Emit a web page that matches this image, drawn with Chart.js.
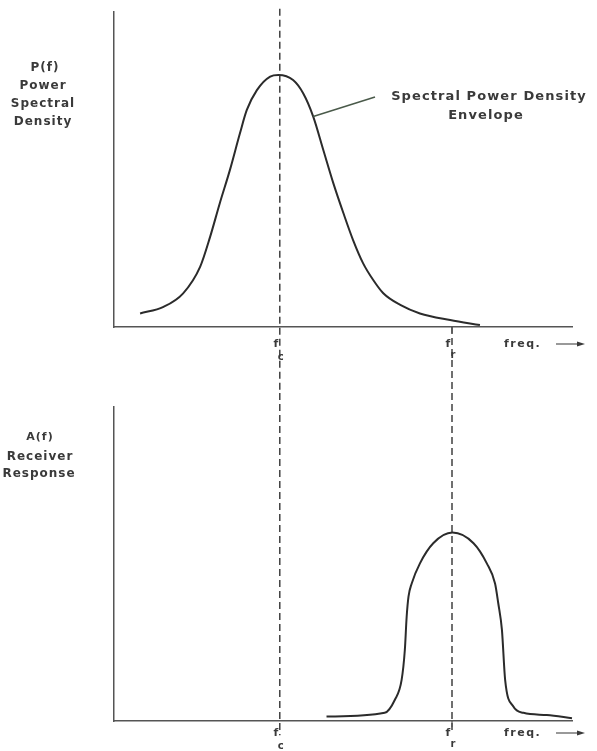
<!DOCTYPE html>
<html>
<head>
<meta charset="utf-8">
<script src="https://cdn.jsdelivr.net/npm/chart.js@4"></script>
<style>
  html, body { margin: 0; padding: 0; background: #ffffff; }
  #wrap { position: relative; width: 597px; height: 751px; }
  canvas { position: absolute; left: 0; }
  #topChart { top: 0; }
  #bottomChart { top: 390px; }
</style>
</head>
<body>
<div id="wrap">
  <canvas id="topChart" width="597" height="390"></canvas>
  <canvas id="bottomChart" width="597" height="361"></canvas>
</div>
<script>
// Frequências de referência (unidades arbitrárias, 0-100)
const fc = 36.2;
const fr = 73.8;

// Envelope da densidade espectral de potência (painel superior)
const freqTop = [5.7, 10.8, 15.1, 18.8, 21.0, 23.1, 25.3, 27.5, 29.0, 31.2, 34.1, 35.9, 39.1, 41.3, 43.5, 45.7, 47.9, 50.1, 52.2, 54.4, 56.6, 58.8, 62.5, 66.8, 73.4, 79.9];
const powerTop = [4.3, 6.4, 10.7, 19.1, 28.7, 39.3, 49.8, 61.5, 68.9, 75.2, 79.5, 80.0, 78.4, 74.2, 66.8, 56.2, 45.6, 36.1, 27.6, 20.2, 14.9, 10.7, 7.0, 4.3, 2.2, 0.6];

// Resposta do receptor (painel inferior)
const freqBottom = [46.4, 59.1, 61.3, 62.8, 63.5, 63.9, 64.3, 65.0, 66.8, 69.7, 73.9, 78.5, 81.4, 83.2, 83.9, 84.7, 85.4, 87.2, 89.4, 94.5, 100];
const respBottom = [1.4, 2.6, 6.7, 13.1, 22.6, 33.2, 39.6, 43.8, 50.2, 56.6, 60.0, 56.6, 50.2, 43.8, 37.5, 29.0, 13.1, 4.6, 2.6, 1.9, 0.9];

// Extensão das linhas tracejadas (valores fora da escala atravessam o espaço entre painéis)
const fcSpanTop = [101, -30];
const frSpanTop = [0, -30];
const fcSpanBottom = [115, -4.5];
const frSpanBottom = [115, -3];

const ink = '#2b2b2b';
const font = "'DejaVu Sans', sans-serif";

function pts(xs, ys) {
  return xs.map((x, i) => ({ x: x, y: ys[i] }));
}

function dashed(x, span) {
  return {
    data: span.map(y => ({ x: x, y: y })),
    borderColor: '#333333',
    borderWidth: 1.4,
    borderDash: [7, 4],
    pointRadius: 0,
    clip: false,
    tension: 0
  };
}

function curve(xs, ys) {
  return {
    data: pts(xs, ys),
    borderColor: ink,
    borderWidth: 2,
    pointRadius: 0,
    cubicInterpolationMode: 'monotone',
    clip: false
  };
}

function scalesCfg() {
  const axis = {
    type: 'linear',
    min: 0,
    max: 100,
    ticks: { display: false },
    grid: { display: false, drawTicks: false },
    border: { display: true, color: '#555555', width: 1.5 }
  };
  return { x: { ...axis }, y: { ...axis } };
}

function drawText(ctx, txt, x, y, size, align) {
  ctx.font = 'bold ' + size + 'px ' + font;
  ctx.textAlign = align || 'center';
  ctx.fillText(txt, x, y);
}

// Rótulos f_c, f_r e "freq." no eixo x
function freqLabels(ctx, chart, yBase, subC) {
  const xs = chart.scales.x;
  const area = chart.chartArea;
  ctx.fillStyle = '#3a3a3a';
  ctx.textBaseline = 'middle';
  ctx.letterSpacing = '0px';
  const xc = xs.getPixelForValue(fc);
  const xr = xs.getPixelForValue(fr);
  drawText(ctx, 'f', xc - 4, yBase, 11);
  drawText(ctx, subC, xc + 1, yBase + 13, 10);
  drawText(ctx, 'f', xr - 4, yBase, 11);
  drawText(ctx, 'r', xr + 1, yBase + 11, 10);
  // pequena marca em f_r
  ctx.strokeStyle = '#555555';
  ctx.lineWidth = 1.2;
  ctx.beginPath();
  ctx.moveTo(xr, area.bottom);
  ctx.lineTo(xr, area.bottom + 6);
  ctx.stroke();
  ctx.letterSpacing = '1.5px';
  drawText(ctx, 'freq.', area.right - 68, yBase, 11, 'left');
  ctx.beginPath();
  ctx.moveTo(area.right - 16, yBase);
  ctx.lineTo(area.right + 6, yBase);
  ctx.stroke();
  ctx.beginPath();
  ctx.moveTo(area.right + 13, yBase);
  ctx.lineTo(area.right + 5, yBase - 2.5);
  ctx.lineTo(area.right + 5, yBase + 2.5);
  ctx.closePath();
  ctx.fill();
}

const topText = {
  id: 'topText',
  afterDraw(chart) {
    const ctx = chart.ctx;
    const xs = chart.scales.x, ys = chart.scales.y;
    ctx.save();
    ctx.fillStyle = '#3a3a3a';
    ctx.textBaseline = 'middle';
    ctx.letterSpacing = '1px';
    drawText(ctx, 'P(f)', 45, 68, 12);
    drawText(ctx, 'Power', 43, 86, 12);
    drawText(ctx, 'Spectral', 43, 104, 12);
    drawText(ctx, 'Density', 43, 122, 12);

    ctx.letterSpacing = '1.1px';
    drawText(ctx, 'Spectral Power Density', 489, 97, 13);
    drawText(ctx, 'Envelope', 486, 116, 13);

    // linha de chamada até a curva
    ctx.strokeStyle = '#4a5a4a';
    ctx.lineWidth = 1.5;
    ctx.beginPath();
    ctx.moveTo(375, 97);
    ctx.lineTo(xs.getPixelForValue(43.5), ys.getPixelForValue(66.8));
    ctx.stroke();

    freqLabels(ctx, chart, 344, 'c');
    ctx.restore();
  }
};

const bottomText = {
  id: 'bottomText',
  afterDraw(chart) {
    const ctx = chart.ctx;
    ctx.save();
    ctx.fillStyle = '#3a3a3a';
    ctx.textBaseline = 'middle';
    ctx.letterSpacing = '1px';
    drawText(ctx, 'A(f)', 40, 47, 11);
    drawText(ctx, 'Receiver', 40, 67, 12);
    drawText(ctx, 'Response', 39, 84, 12);
    freqLabels(ctx, chart, 343, 'c');
    ctx.restore();
  }
};

function makeChart(id, datasets, padding, plugin) {
  return new Chart(document.getElementById(id), {
    type: 'line',
    data: { datasets: datasets },
    options: {
      responsive: false,
      animation: false,
      layout: { padding: padding },
      plugins: { legend: { display: false }, tooltip: { enabled: false } },
      scales: scalesCfg()
    },
    plugins: [plugin]
  });
}

makeChart('topChart', [
  dashed(fc, fcSpanTop),
  dashed(fr, frSpanTop),
  curve(freqTop, powerTop)
], { left: 114, right: 25, top: 12, bottom: 63 }, topText);

makeChart('bottomChart', [
  dashed(fc, fcSpanBottom),
  dashed(fr, frSpanBottom),
  curve(freqBottom, respBottom)
], { left: 114, right: 25, top: 17, bottom: 30 }, bottomText);
</script>
</body>
</html>
